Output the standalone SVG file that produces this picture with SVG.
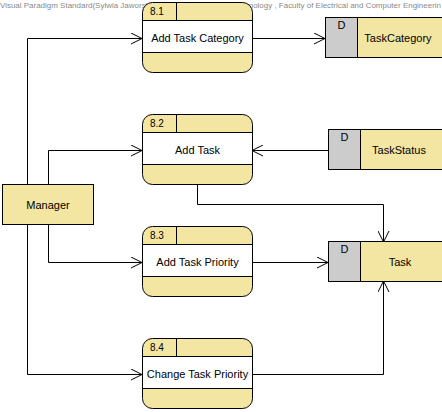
<svg xmlns="http://www.w3.org/2000/svg" width="442" height="412" viewBox="0 0 442 412">
<defs>
<style>
text{font-family:"Liberation Sans",Arial,sans-serif;fill:#000}
.wm{font-size:8px;fill:#8a8a8a}
.lbl{font-size:11px;text-anchor:middle;dominant-baseline:central}
.num{font-size:10px}
.y{fill:#f3e6a3;stroke:#000;stroke-width:1}
.w{fill:#fff;stroke:#000;stroke-width:1}
.g{fill:#cccccc;stroke:#000;stroke-width:1}
.ln{fill:none;stroke:#000;stroke-width:1}
</style>
<marker id="ar" viewBox="0 0 12 12" refX="11" refY="6" markerWidth="12" markerHeight="12" markerUnits="userSpaceOnUse" orient="auto">
<path d="M0,0.5 L11,6 L0,11.5" fill="none" stroke="#000" stroke-width="1"/>
</marker>
</defs>
<rect width="442" height="412" fill="#fff"/>
<text class="wm" x="0" y="8" textLength="441" lengthAdjust="spacingAndGlyphs">Visual Paradigm Standard(Sylwia Jaworska(Cracow University of Technology , Faculty of Electrical and Computer Engineerin</text>

<g id="connectors">
<path class="ln" d="M27.5,184 V38.5 H142" marker-end="url(#ar)"/>
<path class="ln" d="M48.5,184 V150.5 H142" marker-end="url(#ar)"/>
<path class="ln" d="M48.5,224 V262.5 H142" marker-end="url(#ar)"/>
<path class="ln" d="M27.5,224 V374.5 H142" marker-end="url(#ar)"/>
<path class="ln" d="M252,38.5 H325" marker-end="url(#ar)"/>
<path class="ln" d="M328,150.5 H252" marker-end="url(#ar)"/>
<path class="ln" d="M197.5,184 V204.5 H383.5 V242" marker-end="url(#ar)"/>
<path class="ln" d="M252,262.5 H328" marker-end="url(#ar)"/>
<path class="ln" d="M252,374.5 H383.5 V281" marker-end="url(#ar)"/>
</g>

<g id="p81">
<rect class="y" x="142.5" y="2.5" width="110" height="70" rx="10"/>
<rect class="w" x="142.5" y="20.5" width="110" height="32"/>
<line class="ln" x1="176.5" y1="2.5" x2="176.5" y2="20.5"/>
<text class="num" x="150" y="15">8.1</text>
<text class="lbl" x="197.5" y="37.5">Add Task Category</text>
</g>

<g id="p82">
<rect class="y" x="142.5" y="114.5" width="110" height="70" rx="10"/>
<rect class="w" x="142.5" y="132.5" width="110" height="32"/>
<line class="ln" x1="176.5" y1="114.5" x2="176.5" y2="132.5"/>
<text class="num" x="150" y="127">8.2</text>
<text class="lbl" x="197.5" y="149.5">Add Task</text>
</g>

<g id="p83">
<rect class="y" x="142.5" y="226.5" width="110" height="70" rx="10"/>
<rect class="w" x="142.5" y="244.5" width="110" height="32"/>
<line class="ln" x1="176.5" y1="226.5" x2="176.5" y2="244.5"/>
<text class="num" x="150" y="239">8.3</text>
<text class="lbl" x="197.5" y="261.5">Add Task Priority</text>
</g>

<g id="p84">
<rect class="y" x="142.5" y="338.5" width="110" height="70" rx="10"/>
<rect class="w" x="142.5" y="356.5" width="110" height="32"/>
<line class="ln" x1="176.5" y1="338.5" x2="176.5" y2="356.5"/>
<text class="num" x="150" y="351">8.4</text>
<text class="lbl" x="197.5" y="373.5">Change Task Priority</text>
</g>

<g id="manager">
<rect class="y" x="2.5" y="184.5" width="91" height="40"/>
<text class="lbl" x="48" y="204.5">Manager</text>
</g>

<g id="dsTaskCategory">
<rect class="y" x="325.5" y="17.5" width="120" height="40"/>
<rect class="g" x="325.5" y="17.5" width="32" height="40"/>
<text class="lbl" x="341.5" y="25">D</text>
<text class="lbl" x="398" y="38">TaskCategory</text>
</g>

<g id="dsTaskStatus">
<rect class="y" x="328.5" y="129.5" width="120" height="40"/>
<rect class="g" x="328.5" y="129.5" width="32" height="40"/>
<text class="lbl" x="344.5" y="137">D</text>
<text class="lbl" x="399" y="150">TaskStatus</text>
</g>

<g id="dsTask">
<rect class="y" x="328.5" y="241.5" width="120" height="40"/>
<rect class="g" x="328.5" y="241.5" width="32" height="40"/>
<text class="lbl" x="344.5" y="249">D</text>
<text class="lbl" x="400" y="262">Task</text>
</g>
</svg>
